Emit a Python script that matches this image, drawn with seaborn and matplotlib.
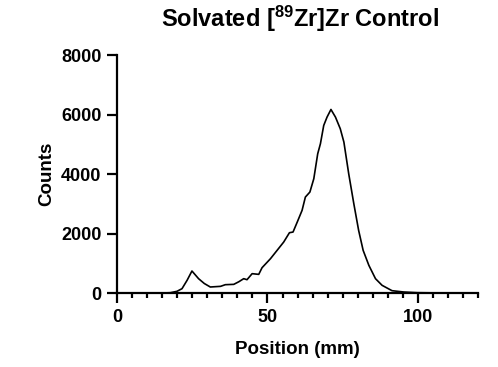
import matplotlib
matplotlib.use("Agg")
import matplotlib.pyplot as plt
import seaborn as sns
import pandas as pd
from matplotlib.ticker import MultipleLocator

# Data
position_mm = [0, 5, 10, 15, 17.7, 19.9, 21.6, 23.3, 24.9, 27.1, 29.0, 31.0, 34.4, 36.0,
               38.8, 40.5, 42.1, 43.2, 44.9, 47.1, 48.2, 51.0, 53.2, 55.4, 57.3, 58.5,
               59.9, 61.5, 62.6, 64.1, 65.4, 66.7, 67.6, 68.7, 69.8, 71.1, 72.6, 74.2,
               75.4, 77.0, 78.7, 80.3, 81.8, 83.7, 85.9, 88.1, 91.4, 95.3, 99.8, 105,
               110, 115, 120]
counts = [0, 0, 0, 0, 10, 56, 146, 430, 740, 482, 320, 202, 224, 280,
          291, 380, 482, 448, 650, 627, 851, 1154, 1434, 1714, 2027, 2050,
          2386, 2778, 3226, 3394, 3842, 4682, 5018, 5634, 5914, 6171, 5914, 5522,
          5074, 4010, 3002, 2106, 1434, 930, 482, 258, 78, 34, 11, 5,
          0, 0, 0]

title = "Solvated [$\\mathbf{^{89}}$Zr]Zr Control"
xlabel = "Position (mm)"
ylabel = "Counts"
xticks = [0, 50, 100]
yticks = [0, 2000, 4000, 6000, 8000]

df = pd.DataFrame({"Position": position_mm, "Counts": counts})

sns.set_style("ticks")
plt.rcParams["font.family"] = ["Liberation Sans", "DejaVu Sans"]
plt.rcParams["mathtext.fontset"] = "custom"
plt.rcParams["mathtext.bf"] = "Liberation Sans:bold"
plt.rcParams["mathtext.rm"] = "Liberation Sans"
plt.rcParams["text.color"] = "black"
plt.rcParams["axes.labelcolor"] = "black"

fig = plt.figure(figsize=(4.98, 3.67), dpi=100)
ax = fig.add_axes([0.235, 0.2016, 0.725, 0.6484])

sns.lineplot(data=df, x="Position", y="Counts", ax=ax, color="black", linewidth=1.2)

ax.set_xlim(0, 120)
ax.set_ylim(0, 8000)
ax.set_xticks(xticks)
ax.set_yticks(yticks)
ax.xaxis.set_minor_locator(MultipleLocator(5))

for side in ["top", "right"]:
    ax.spines[side].set_visible(False)
for side in ["left", "bottom"]:
    ax.spines[side].set_linewidth(1.6)
    ax.spines[side].set_color("black")

ax.tick_params(axis="both", which="major", width=1.6, length=7.2, colors="black",
               labelsize=13, pad=4)
ax.tick_params(axis="x", which="minor", width=1.6, length=3.6, colors="black")
for lbl in ax.get_xticklabels() + ax.get_yticklabels():
    lbl.set_fontweight("bold")
    lbl.set_color("black")

ax.set_xlabel(xlabel, fontsize=13.5, fontweight="bold", labelpad=11, color="black")
ax.set_ylabel(ylabel, fontsize=13.5, fontweight="bold", labelpad=4.5, color="black")
fig.text(0.602, 0.926, title, fontsize=17, fontweight="bold", ha="center",
         va="baseline", color="black")

fig.savefig("out.png", dpi=100)
